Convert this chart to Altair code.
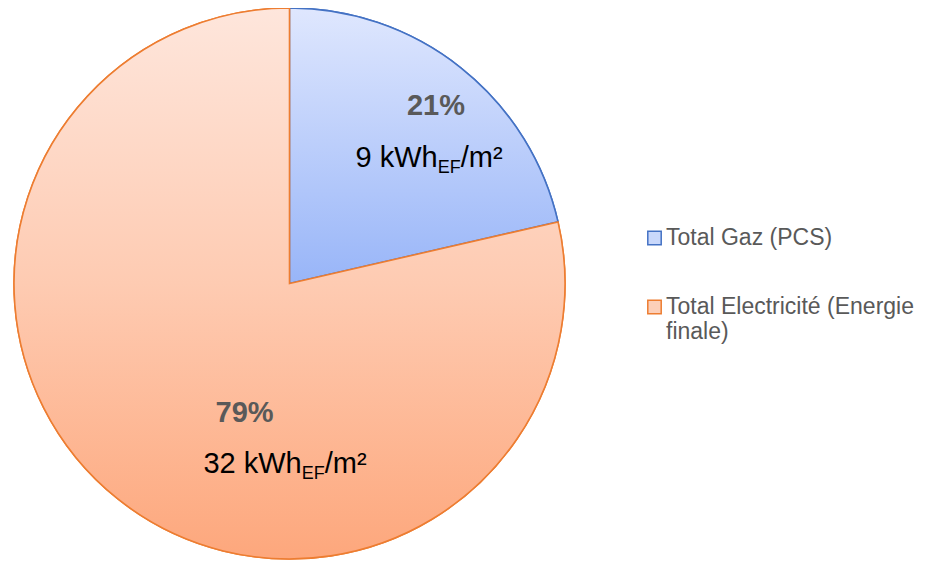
import altair as alt
import pandas as pd

categories = ["Total Gaz (PCS)", "Total Electricité (Energie finale)"]
values = [8.8, 32.3]
pct_labels = ["21%", "79%"]
kwh_labels = ["9 kWh", "32 kWh"]
sub_labels = ["EF", "EF"]
unit_labels = ["/m²", "/m²"]

legend_fill = ["#c9d8fb", "#fccfb9"]
edge_colors = ["#4472c4", "#ed7d31"]

df = pd.DataFrame({
    "category": categories,
    "value": values,
    "pct": pct_labels,
    "kwh": kwh_labels,
    "sub": sub_labels,
    "unit": unit_labels,
})
df["end"] = df["value"].cumsum()
df["start"] = df["end"] - df["value"]
df["mid"] = (df["start"] + df["end"]) / 2
total = float(df["end"].max())

FONT = "Liberation Sans"
R = 275.5
theta_scale = alt.Scale(domain=[0, total], nice=False, zero=True)

base = alt.Chart(df)

legend = alt.Legend(
    title=None, orient="none", legendX=635, legendY=218.5, direction="vertical",
    symbolType="square", symbolSize=180, symbolStrokeWidth=1.5,
    labelFont=FONT, labelFontSize=23, labelColor="#595959", labelLimit=400,
    labelOffset=0, rowPadding=45,
    labelExpr="datum.label == 'Total Electricité (Energie finale)' ? ['Total Electricité (Energie', 'finale)'] : datum.label",
)

under = base.mark_arc(outerRadius=R, strokeWidth=1.5).encode(
    theta=alt.Theta("start:Q", scale=theta_scale, stack=False),
    theta2="end:Q",
    fill=alt.Fill("category:N", sort=categories,
                  scale=alt.Scale(domain=categories, range=legend_fill), legend=legend),
    stroke=alt.Stroke("category:N", sort=categories,
                      scale=alt.Scale(domain=categories, range=edge_colors), legend=legend),
)

def grad_arc(cat, stops, edge):
    return base.transform_filter(alt.datum.category == cat).mark_arc(
        outerRadius=R, stroke=edge, strokeWidth=1.6,
        fill=alt.LinearGradient(
            gradient="linear", x1=0, y1=0, x2=0, y2=1,
            stops=[alt.GradientStop(color=c, offset=o) for o, c in stops],
        ),
    ).encode(
        theta=alt.Theta("start:Q", scale=theta_scale, stack=False),
        theta2="end:Q",
    )

gas_arc = grad_arc(categories[0], [(0, "#dfe7fe"), (1, "#98b5f8")], edge_colors[0])
elec_arc = grad_arc(categories[1], [(0, "#fee6dc"), (0.5, "#fecbb2"), (1, "#fda77c")], edge_colors[1])

def text_layer(cat, field, r, dx, dy, size, weight, color, align):
    return base.transform_filter(alt.datum.category == cat).mark_text(
        dx=dx, dy=dy, fontSize=size, fontWeight=weight, color=color,
        align=align, baseline="alphabetic", font=FONT,
    ).encode(
        theta=alt.Theta("mid:Q", scale=theta_scale, stack=False),
        radius=alt.value(r),
        text=f"{field}:N",
    )

FS = 29
SUB = 18
texts = [
    text_layer(categories[0], "pct", 230, 3.2, 11.4, FS, "bold", "#595959", "center"),
    text_layer(categories[0], "kwh", 230, 4.9, 63.4, FS, "normal", "#000000", "right"),
    text_layer(categories[0], "sub", 230, 4.9, 69.4, SUB, "normal", "#000000", "left"),
    text_layer(categories[0], "unit", 230, 27.9, 63.4, FS, "normal", "#000000", "left"),
    text_layer(categories[1], "pct", 150, 48.5, 21.2, FS, "bold", "#595959", "center"),
    text_layer(categories[1], "kwh", 150, 105.7, 72.2, FS, "normal", "#000000", "right"),
    text_layer(categories[1], "sub", 150, 105.7, 78.2, SUB, "normal", "#000000", "left"),
    text_layer(categories[1], "unit", 150, 128.7, 72.2, FS, "normal", "#000000", "left"),
]

chart = alt.layer(under, gas_arc, elec_arc, *texts).properties(
    width=563, height=551,
    padding={"left": 0, "top": 0, "right": 351, "bottom": 2},
    autosize=alt.AutoSizeParams(type="none"),
    background="white",
).configure_view(stroke=None)

chart.save("out.html", embed_options={"renderer": "svg", "actions": False})
